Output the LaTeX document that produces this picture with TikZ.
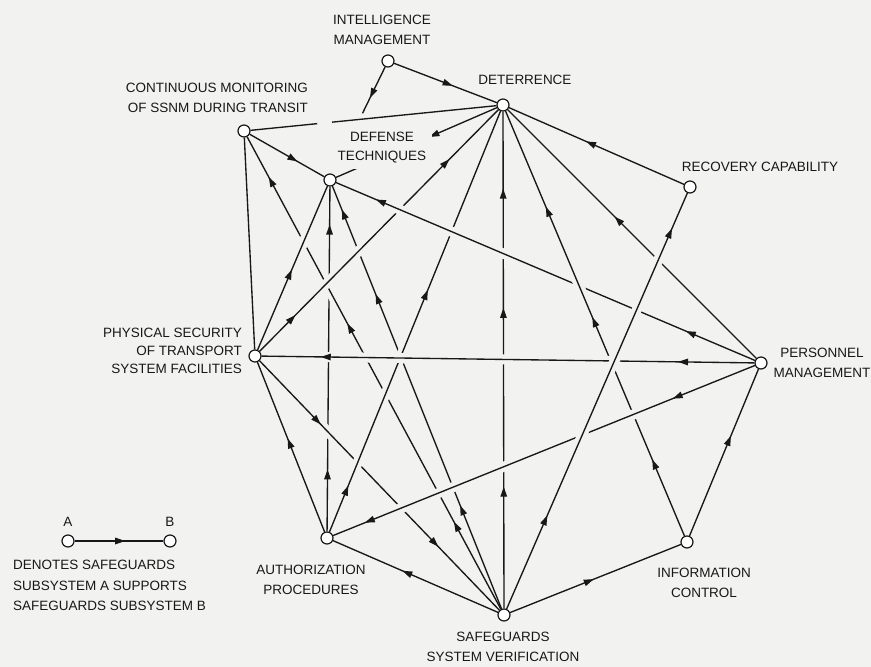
\documentclass[tikz,border=0pt]{standalone}
\usepackage{fontspec}
\setmainfont{Liberation Sans}
\usetikzlibrary{arrows.meta,decorations.markings,calc}
\definecolor{paper}{RGB}{242,242,240}
\definecolor{ink}{RGB}{24,24,24}
\begin{document}
\begin{tikzpicture}[x=1pt,y=-1pt,
  sub/.style={circle,draw=ink,fill=white,line width=1.2pt,minimum size=12pt,inner sep=0pt},
  lbl/.style={font=\fontsize{13.5}{20}\selectfont,text=ink,inner sep=0pt},
  link/.style={color=ink,line width=1.35pt},
  halo/.style={preaction={draw=paper,line width=10pt,shorten <=50pt,shorten >=50pt}},
  arw/.style={postaction={decorate,decoration={markings,mark=at position #1 with {\arrow{Triangle[length=10pt,width=6.5pt]}}}}},
]
\fill[paper] (0,0) rectangle (871,667);
\path[use as bounding box] (0,0) rectangle (871,667);

% safeguards subsystems
\node[sub] (IM)  at (388,61)  {};
\node[sub] (DET) at (503,105) {};
\node[sub] (CM)  at (244,131) {};
\node[sub] (DT)  at (330,180) {};
\node[sub] (RC)  at (690,187) {};
\node[sub] (PS)  at (255,356) {};
\node[sub] (PM)  at (761,363) {};
\node[sub] (AP)  at (327,538) {};
\node[sub] (IC)  at (687,542) {};
\node[sub] (SV)  at (504,615) {};

% support links that cross nothing
\draw[link, dash pattern=on 67pt off 15pt on 400pt] (CM) -- (DET);
\draw[link, arw=0.57] (IM) -- (DET);
\coordinate (IMend) at ($(IM)!0.44!(DT)$);
\draw[link, arw=0.67] (IM) -- (IMend);
\draw[link, arw=0.42] (DET) -- (DT);
\draw[link, arw=0.64] (CM) -- (DT);
\draw[link] (CM) -- (PS);
\draw[link, arw=0.56] (RC) -- (DET);
\draw[link, arw=0.55] (AP) -- (PS);
\draw[link, arw=0.58] (SV) -- (AP);
\draw[link, arw=0.49] (SV) -- (IC);
\draw[link, arw=0.6] (IC) -- (PM);

% crossing links, lowest first; each one breaks the lines beneath it
\draw[link, halo, arw=0.57] (PM) -- (DET);
\draw[link, halo, arw/.list={0.245,0.605,0.845}] (SV) -- (DET);
\draw[link, halo, arw/.list={0.18,0.89}] (AP) -- (DT);
\draw[link, halo, arw/.list={0.245,0.745,0.945}] (SV) -- (DT);
\draw[link, halo, arw/.list={0.185,0.605,0.915}] (SV) -- (CM);
\draw[link, halo, arw/.list={0.255,0.745}] (PS) -- (SV);
\draw[link, halo, arw/.list={0.11,0.575}] (AP) -- (DET);
\draw[link, halo, arw=0.49] (PS) -- (DT);
\draw[link, halo, arw/.list={0.15,0.795}] (PS) -- (DET);
\draw[link, halo, arw/.list={0.165,0.905}] (PM) -- (DT);
\draw[link, halo, arw/.list={0.18,0.515,0.775}] (IC) -- (DET);
\draw[link, halo, arw/.list={0.155,0.88}] (PM) -- (PS);
\draw[link, halo, arw/.list={0.195,0.925}] (PM) -- (AP);
\draw[link, halo, arw/.list={0.225,0.915}] (SV) -- (RC);

% labels
\node[lbl,align=center] (tIM) at (382,30) {INTELLIGENCE\\MANAGEMENT};
\node[lbl] (tDET) at (525,80) {DETERRENCE};
\node[lbl,align=right,anchor=east] (tCM) at (308,98) {CONTINUOUS MONITORING\\OF SSNM DURING TRANSIT};
\node[lbl,align=center,fill=paper,inner sep=6pt,font=\fontsize{13.5}{19}\selectfont] (tDT) at (382,147.5) {DEFENSE\\TECHNIQUES};
\node[lbl] (tRC) at (760,167) {RECOVERY CAPABILITY};
\node[lbl,align=right,anchor=east,font=\fontsize{13.5}{18}\selectfont] (tPS) at (242,351) {PHYSICAL SECURITY\\OF TRANSPORT\\SYSTEM FACILITIES};
\node[lbl,align=center] (tPM) at (822,363) {PERSONNEL\\MANAGEMENT};
\node[lbl,align=center] (tAP) at (311,580) {AUTHORIZATION\\PROCEDURES};
\node[lbl,align=center] (tIC) at (704,583) {INFORMATION\\CONTROL};
\node[lbl,align=center] (tSV) at (503,647) {SAFEGUARDS\\SYSTEM VERIFICATION};

% key
\node[sub] (LA) at (68,541) {};
\node[sub] (LB) at (170,541) {};
\draw[link, arw=0.57] (LA) -- (LB);
\node[lbl] (tA) at (68,522) {A};
\node[lbl] (tB) at (170,522) {B};
\node[lbl,align=left,anchor=west,font=\fontsize{13.5}{20.5}\selectfont] (tKey) at (13,585.5) {DENOTES SAFEGUARDS\\SUBSYSTEM A SUPPORTS\\SAFEGUARDS SUBSYSTEM B};
\end{tikzpicture}
\end{document}
